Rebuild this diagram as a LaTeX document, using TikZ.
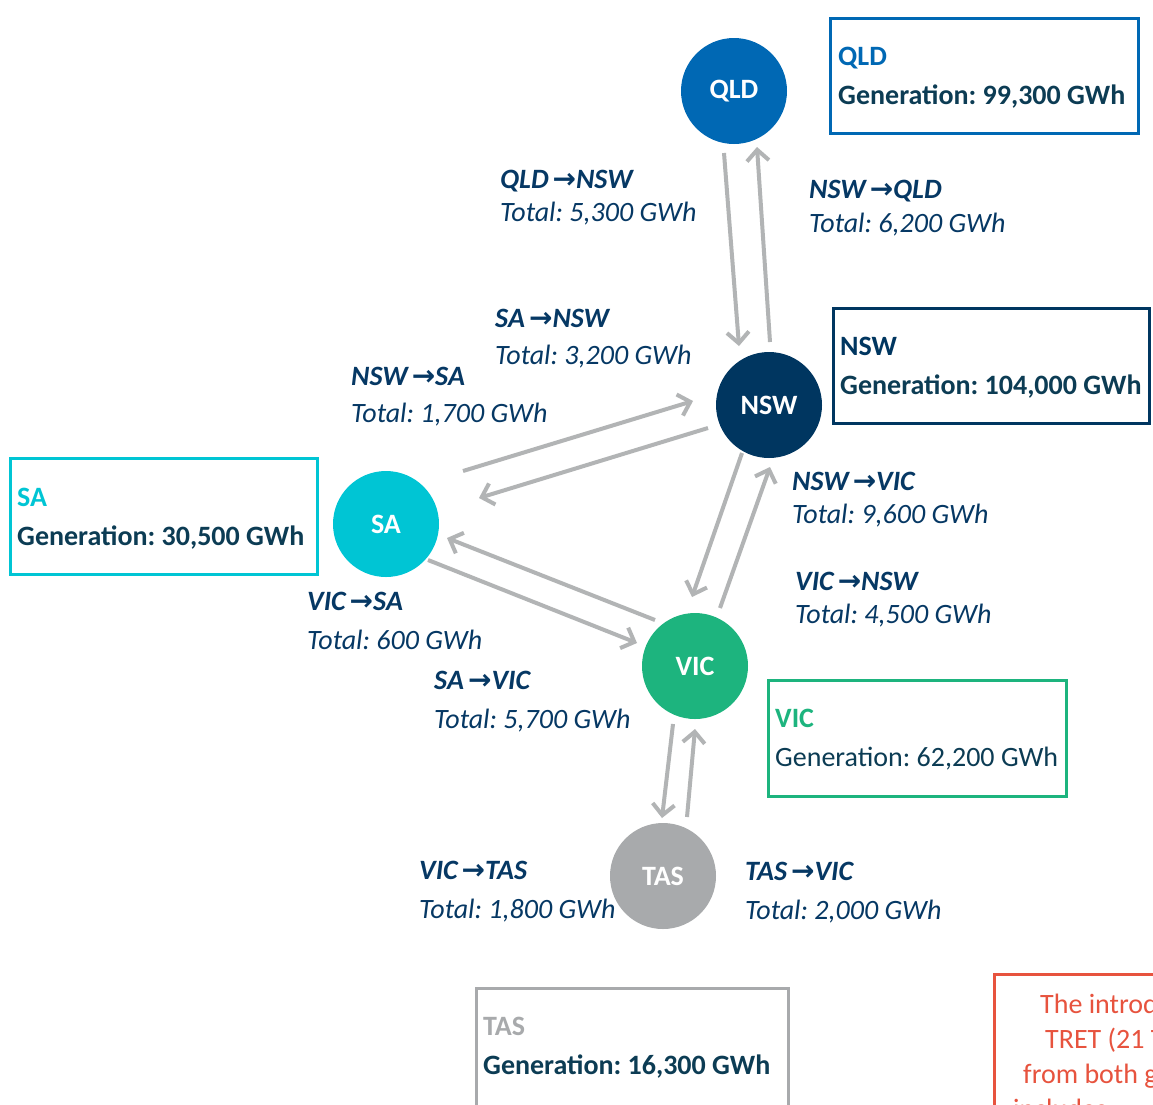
\documentclass[tikz,border=0pt]{standalone}
\usepackage{fontspec}
\setmainfont{Carlito}
\newfontfamily\arrfont{DejaVu Sans}
\usetikzlibrary{arrows.meta}
\frenchspacing
\definecolor{qldblue}{RGB}{0,104,180}
\definecolor{nswnavy}{RGB}{0,54,96}
\definecolor{sacyan}{RGB}{0,197,212}
\definecolor{vicgreen}{RGB}{29,180,126}
\definecolor{tasgray}{RGB}{168,170,172}
\definecolor{arrowgray}{RGB}{178,180,181}
\definecolor{labelnavy}{RGB}{6,56,100}
\definecolor{gentext}{RGB}{12,60,84}
\definecolor{notered}{RGB}{231,83,62}
\newcommand\bigfont{\fontsize{28}{34}\selectfont}
\newcommand\rarr{\hspace{4pt}{\arrfont\bfseries\itshape →}}
\tikzset{
  region/.style={circle, minimum size=106pt, inner sep=0pt, text=white, font=\bigfont\bfseries},
  flow/.style={draw=arrowgray, line width=4pt, -{Straight Barb[length=11pt,width=22pt]}},
  genbox/.style={draw, line width=2.5pt, anchor=north west, inner sep=0pt},
  txt/.style={anchor=base west, inner sep=0pt, font=\bigfont},
  fhead/.style={txt, text=labelnavy, font=\bigfont\bfseries\itshape},
  ftot/.style={txt, text=labelnavy, font=\bigfont\itshape},
  genname/.style={txt, font=\bigfont\bfseries},
  genval/.style={txt, text=gentext, font=\bigfont\bfseries},
}
\newcommand\flowlabel[6]{%
  \node[fhead] (#1h) at (#2,#3) {#5};
  \node[ftot] (#1t) at (#2,#4) {#6};
}
\begin{document}
\begin{tikzpicture}[x=1pt,y=-1pt]
\useasboundingbox (0,0) rectangle (1153,1104);
\clip (0,0) rectangle (1153,1104);
\fill[white] (0,0) rectangle (1153,1104);

% regions
\node[region, fill=qldblue] (qld) at (734,91) {QLD};
\node[region, fill=nswnavy] (nsw) at (769,405) {NSW};
\node[region, fill=sacyan] (sa) at (386,524) {SA};
\node[region, fill=vicgreen] (vic) at (695,666) {VIC};
\node[region, fill=tasgray] (tas) at (663,876) {TAS};

% flows
\draw[flow] ([shift={(-10,62)}]qld.center) -- ([shift={(-30,-59)}]nsw.center);
\draw[flow] ([shift={(1,-63)}]nsw.center) -- ([shift={(23,56)}]qld.center);
\draw[flow] ([shift={(77,-53)}]sa.center) -- ([shift={(-76,-4)}]nsw.center);
\draw[flow] ([shift={(-61,23)}]nsw.center) -- ([shift={(93,-26)}]sa.center);
\draw[flow] ([shift={(-27,48)}]nsw.center) -- ([shift={(-3,-69)}]vic.center);
\draw[flow] ([shift={(25,-58)}]vic.center) -- ([shift={(1,62)}]nsw.center);
\draw[flow] ([shift={(-40,-46)}]vic.center) -- ([shift={(61,14)}]sa.center);
\draw[flow] ([shift={(42,36)}]sa.center) -- ([shift={(-58,-23)}]vic.center);
\draw[flow] ([shift={(-22,58)}]vic.center) -- ([shift={(-1,-58)}]tas.center);
\draw[flow] ([shift={(24,-59)}]tas.center) -- ([shift={(0,63)}]vic.center);

% flow labels
\flowlabel{qn}{500}{188}{221}{QLD\rarr NSW}{Total: 5,300 GWh}
\flowlabel{nq}{809}{198}{232}{NSW\rarr QLD}{Total: 6,200 GWh}
\flowlabel{sn}{495}{327}{364}{SA\rarr NSW}{Total: 3,200 GWh}
\flowlabel{ns}{351}{385}{422}{NSW\rarr SA}{Total: 1,700 GWh}
\flowlabel{nv}{792}{490}{523}{NSW\rarr VIC}{Total: 9,600 GWh}
\flowlabel{vn}{795}{590}{623}{VIC\rarr NSW}{Total: 4,500 GWh}
\flowlabel{vs}{307}{610}{649}{VIC\rarr SA}{Total: 600 GWh}
\flowlabel{sv}{434}{689}{728}{SA\rarr VIC}{Total: 5,700 GWh}
\flowlabel{vt}{419}{879}{918}{VIC\rarr TAS}{Total: 1,800 GWh}
\flowlabel{tv}{745}{880}{919}{TAS\rarr VIC}{Total: 2,000 GWh}

% generation boxes
\node[genbox, draw=qldblue, minimum width=308pt, minimum height=115pt] (qldbox) at (829,17) {};
\node[genname, text=qldblue] (qldname) at (838,65) {QLD};
\node[genval] (qldgen) at (838,104) {Generation: 99,300 GWh};

\node[genbox, draw=nswnavy, minimum width=316pt, minimum height=115pt] (nswbox) at (832,307) {};
\node[genname, text=nswnavy] (nswname) at (840,355) {NSW};
\node[genval] (nswgen) at (840,394) {Generation: 104,000 GWh};

\node[genbox, draw=sacyan, minimum width=307pt, minimum height=116pt] (sabox) at (9,457) {};
\node[genname, text=sacyan] (saname) at (17,506) {SA};
\node[genval] (sagen) at (17,545) {Generation: 30,500 GWh};

\node[genbox, draw=vicgreen, minimum width=298pt, minimum height=116pt] (vicbox) at (767,679) {};
\node[genname, text=vicgreen] (vicname) at (775,727) {VIC};
\node[txt, text=gentext] (vicgen) at (775,766) {Generation: 62,200 GWh};

\node[genbox, draw=tasgray, minimum width=312pt, minimum height=140pt] (tasbox) at (475,987) {};
\node[genname, text=tasgray] (tasname) at (483,1035) {TAS};
\node[genval] (tasgen) at (483,1074) {Generation: 16,300 GWh};

% note box (cut by the page edge, as in the source)
\node[genbox, draw=notered, line width=3pt, minimum width=300pt, minimum height=200pt] (notebox) at (993,973) {};
\node[txt, text=notered] (note1) at (1040,1013) {The introduction of the};
\node[txt, text=notered] (note2) at (1045,1048) {TRET (21 TWh)};
\node[txt, text=notered] (note3) at (1023,1083) {from both generators};
\node[txt, text=notered] (note4) at (1013,1118) {includes};
\end{tikzpicture}
\end{document}
